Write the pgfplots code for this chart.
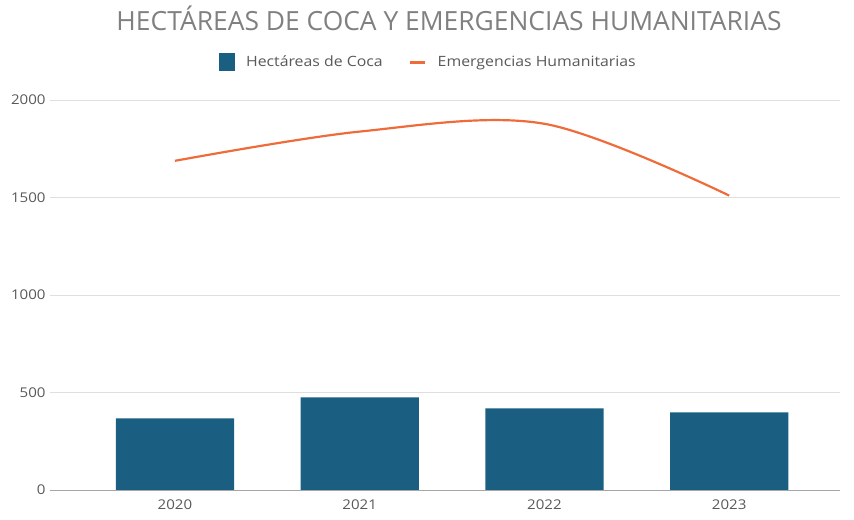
\documentclass[border=0pt]{standalone}
\usepackage{pgfplots}
\pgfplotsset{compat=1.18}
\usepackage{fontspec}
\setmainfont{Open Sans}
\newfontfamily\widefont[FakeStretch=1.12]{Open Sans}
\definecolor{barblue}{HTML}{1A5E82}
\definecolor{lineorange}{HTML}{F06B3A}
\definecolor{ticktext}{HTML}{595959}
\definecolor{titlegray}{HTML}{808080}
\begin{document}
\begin{tikzpicture}
\begin{axis}[
  scale only axis, width=790bp, height=390bp,
  xmin=-0.676, xmax=3.6, ymin=0, ymax=2000,
  axis lines*=left,
  x axis line style={draw=gray!70, line width=1pt, -},
  y axis line style={draw=none},
  major tick length=0pt,
  ymajorgrids, grid style={draw=gray!25, line width=0.8pt},
  ytick={0,500,1000,1500,2000},
  xtick={0,1,2,3}, xticklabels={2020,2021,2022,2023},
  tick label style={font=\widefont\fontsize{13.5}{15}\selectfont, text=ticktext},
  yticklabel style={xshift=-1bp},
  xticklabel style={yshift=-6bp},
  /pgf/number format/assume math mode=true,
  scaled y ticks=false,
  yticklabel={\pgfmathprintnumber[fixed,1000 sep={}]{\tick}},
  title={HECTÁREAS DE COCA Y EMERGENCIAS HUMANITARIAS},
  title style={at={(0.505,1.195)}, anchor=center, font=\fontsize{26.5}{30}\selectfont, text=titlegray},
  legend columns=2,
  legend style={at={(0.479,1.097)}, anchor=center, draw=none, fill=none,
    font=\widefont\fontsize{14.2}{16}\selectfont, text=ticktext,
    /tikz/every odd column/.append style={column sep=9bp},
    /tikz/every even column/.append style={column sep=24bp}},
  clip=false,
]
\addplot[ybar, bar width=0.64, bar shift=0pt, fill=barblue, draw=none,
  legend image code/.code={\fill[barblue] (0bp,-9bp) rectangle (16bp,9bp);}]
  coordinates {(0,367) (1,475) (2,418) (3,398)};
\addlegendentry{Hectáreas de Coca}
\addplot[smooth, tension=0.55, color=lineorange, line width=2.2pt, mark=none,
  legend image code/.code={\draw[lineorange, line width=3pt] (0bp,0bp) -- (15bp,0bp);}]
  coordinates {(0,1688) (1,1838) (2,1878) (3,1510)};
\addlegendentry{Emergencias Humanitarias}
\end{axis}
\path[use as bounding box] (-50bp,-30bp) rectangle (804bp,490bp);
\end{tikzpicture}
\end{document}
